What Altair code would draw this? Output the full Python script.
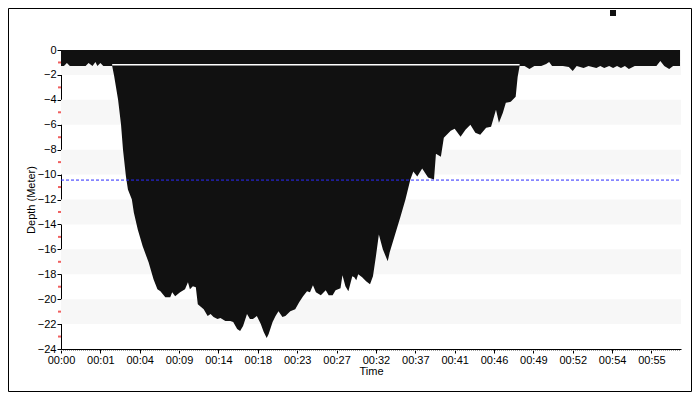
import json
import altair as alt
import pandas as pd

# ---- data ----
sample = [0, 3, 6, 9, 19, 25, 28, 32, 35, 37, 40, 43, 48, 52, 54, 58, 61, 63, 66, 68,
          72, 74, 78, 83, 89, 94, 98, 101, 106, 111, 113, 116, 121, 126, 129, 131, 134, 137, 139, 145,
          149, 152, 155, 159, 162, 167, 172, 175, 179, 182, 185, 189, 192, 195, 199, 203, 206, 209, 211, 215,
          218, 221, 225, 228, 233, 238, 242, 246, 250, 253, 256, 259, 264, 269, 272, 276, 279, 284, 286, 289,
          292, 296, 298, 300, 302, 306, 310, 314, 317, 320, 323, 327, 332, 334, 338, 345, 350, 355, 358, 362,
          367, 373, 379, 381, 386, 389, 396, 400, 406, 411, 416, 421, 426, 432, 437, 442, 445, 449, 452, 457,
          462, 464, 466, 471, 476, 481, 488, 493, 496, 499, 504, 510, 516, 520, 524, 531, 536, 544, 548, 552,
          557, 561, 565, 569, 573, 577, 583, 589, 598, 605, 609, 613, 618, 622, 629]
depth = [-1.28, -1.28, -1.04, -1.28, -1.28, -1.28, -1.04, -1.28, -0.96, -1.28, -1.04, -1.28, -1.28, -1.28, -2.08, -4.0, -6.0, -8.0, -10.16, -11.2,
         -12.0, -13.04, -14.4, -15.76, -17.04, -18.4, -19.2, -19.36, -19.84, -19.84, -19.44, -19.76, -19.44, -19.2, -18.64, -19.2, -18.96, -19.04, -20.4, -20.8,
         -21.36, -21.2, -21.44, -21.6, -21.52, -21.76, -21.76, -21.84, -22.4, -22.56, -22.16, -21.2, -21.6, -21.6, -21.36, -22.0, -22.64, -23.12, -22.8, -21.84,
         -21.36, -20.96, -21.44, -21.36, -20.96, -20.8, -20.24, -19.76, -19.36, -19.44, -18.88, -19.44, -19.68, -19.28, -19.68, -19.68, -19.28, -19.12, -18.08, -18.96,
         -19.36, -18.16, -18.24, -18.48, -18.0, -18.24, -18.56, -18.8, -18.16, -16.56, -14.8, -16.0, -16.96, -16.24, -15.2, -13.36, -12.0, -10.4, -9.76, -10.16,
         -9.52, -10.24, -10.4, -8.32, -8.56, -7.04, -6.48, -6.32, -6.96, -6.4, -6.0, -6.64, -6.8, -6.24, -6.16, -4.8, -5.84, -5.04, -4.24, -4.16,
         -3.76, -2.16, -1.28, -1.28, -1.52, -1.28, -1.28, -1.12, -0.96, -1.28, -1.28, -1.28, -1.36, -1.68, -1.28, -1.44, -1.28, -1.44, -1.28, -1.44,
         -1.28, -1.44, -1.28, -1.44, -1.28, -1.52, -1.28, -1.28, -1.28, -1.28, -0.88, -1.28, -1.52, -1.28, -1.28]

time_labels = ["00:00", "00:01", "00:04", "00:09", "00:14", "00:18", "00:23", "00:27",
               "00:32", "00:37", "00:41", "00:46", "00:49", "00:52", "00:54", "00:55"]
label_step = 40
x_max = 630

band_lo = [0, -4, -8, -12, -16, -20]
band_hi = [-2, -6, -10, -14, -18, -22]
y_ticks = list(range(-24, 1, 2))
minor_ticks = list(range(-23, 0, 2))

surface_start = [52]
surface_end = [466]
surface_depth = [-1.18]
threshold_depth = [-10.44]

# ---- chart ----
W, H = 620, 299
PAD_L, PAD_T, PAD_R, PAD_B = 53, 42, 11, 43
FONT = "Liberation Sans"

xs = alt.Scale(domain=[0, x_max], nice=False, zero=False)
ys = alt.Scale(domain=[-24, 0], nice=False, zero=False)

label_expr = f"{json.dumps(time_labels)}[round(datum.value / {label_step})]"
x_axis = alt.Axis(values=[i * label_step for i in range(len(time_labels))],
                  labelExpr=label_expr, title="Time", grid=False,
                  domainColor="#000000", tickColor="#000000", tickSize=4,
                  labelFont=FONT, labelFontSize=11, labelColor="#000000", labelPadding=1,
                  titleFont=FONT, titleFontSize=11, titleFontWeight="normal",
                  titleColor="#000000", titlePadding=0, labelFlush=False)
y_axis = alt.Axis(values=y_ticks, title="Depth (Meter)", grid=False, format="d",
                  domainColor="#000000", tickColor="#000000", tickSize=4,
                  labelFont=FONT, labelFontSize=11, labelColor="#000000", labelPadding=1,
                  titleFont=FONT, titleFontSize=11, titleFontWeight="normal",
                  titleColor="#000000", titlePadding=1)

profile = pd.DataFrame({"sample": sample, "depth": depth, "series": ["Depth"] * len(sample)})

bands = alt.Chart(pd.DataFrame({"lo": band_lo, "hi": band_hi})).mark_rect(
    color="#f7f7f7").encode(
    x=alt.value(0), x2=alt.value(W),
    y=alt.Y("lo:Q", scale=ys, axis=y_axis), y2="hi:Q")

area = alt.Chart(profile).mark_area(interpolate="linear", opacity=1).encode(
    x=alt.X("sample:Q", scale=xs, axis=x_axis),
    y=alt.Y("depth:Q", scale=ys, axis=y_axis),
    y2=alt.datum(0),
    color=alt.Color("series:N", scale=alt.Scale(range=["#111111"]),
                    legend=alt.Legend(orient="none", legendX=547, legendY=-42, title=None,
                                      symbolType="square", symbolSize=36, labelExpr="''",
                                      symbolStrokeWidth=0, padding=0, labelFontSize=10)))

surface = alt.Chart(pd.DataFrame({"a": surface_start, "b": surface_end, "d": surface_depth})).mark_rule(
    color="#ffffff", strokeWidth=1.5).encode(
    x=alt.X("a:Q", scale=xs, axis=x_axis), x2="b:Q",
    y=alt.Y("d:Q", scale=ys, axis=y_axis))

threshold = alt.Chart(pd.DataFrame({"d": threshold_depth})).mark_rule(
    stroke="#2a2aff", strokeWidth=1, strokeDash=[3, 2], opacity=1).encode(
    x=alt.value(0), x2=alt.value(W),
    y=alt.Y("d:Q", scale=ys, axis=y_axis))

minor = alt.Chart(pd.DataFrame({"d": minor_ticks})).mark_rule(
    color="#f06060", strokeWidth=2).encode(
    x=alt.value(-3), x2=alt.value(0),
    y=alt.Y("d:Q", scale=ys, axis=y_axis))

x_minor = alt.Chart(pd.DataFrame({"k": [0]})).mark_rule(
    color="#a0a0a0", strokeWidth=1, strokeDash=[1, 1]).encode(
    x=alt.value(0), x2=alt.value(W), y=alt.value(H + 1.5))

border = alt.Chart(pd.DataFrame({"k": [0]})).mark_rect(
    fill=None, stroke="#000000", strokeWidth=1).encode(
    x=alt.value(-PAD_L + 0.5), x2=alt.value(W + PAD_R - 0.5),
    y=alt.value(-PAD_T + 0.5), y2=alt.value(H + PAD_B - 0.5))

chart = alt.layer(bands, area, surface, threshold, minor, x_minor, border).properties(
    width=W, height=H,
    autosize=alt.AutoSizeParams(type="none"),
    padding={"left": PAD_L, "top": PAD_T, "right": PAD_R, "bottom": PAD_B},
    background="#ffffff",
).configure_view(stroke=None)

chart.save("out.html", embed_options={"renderer": "svg", "actions": False})
